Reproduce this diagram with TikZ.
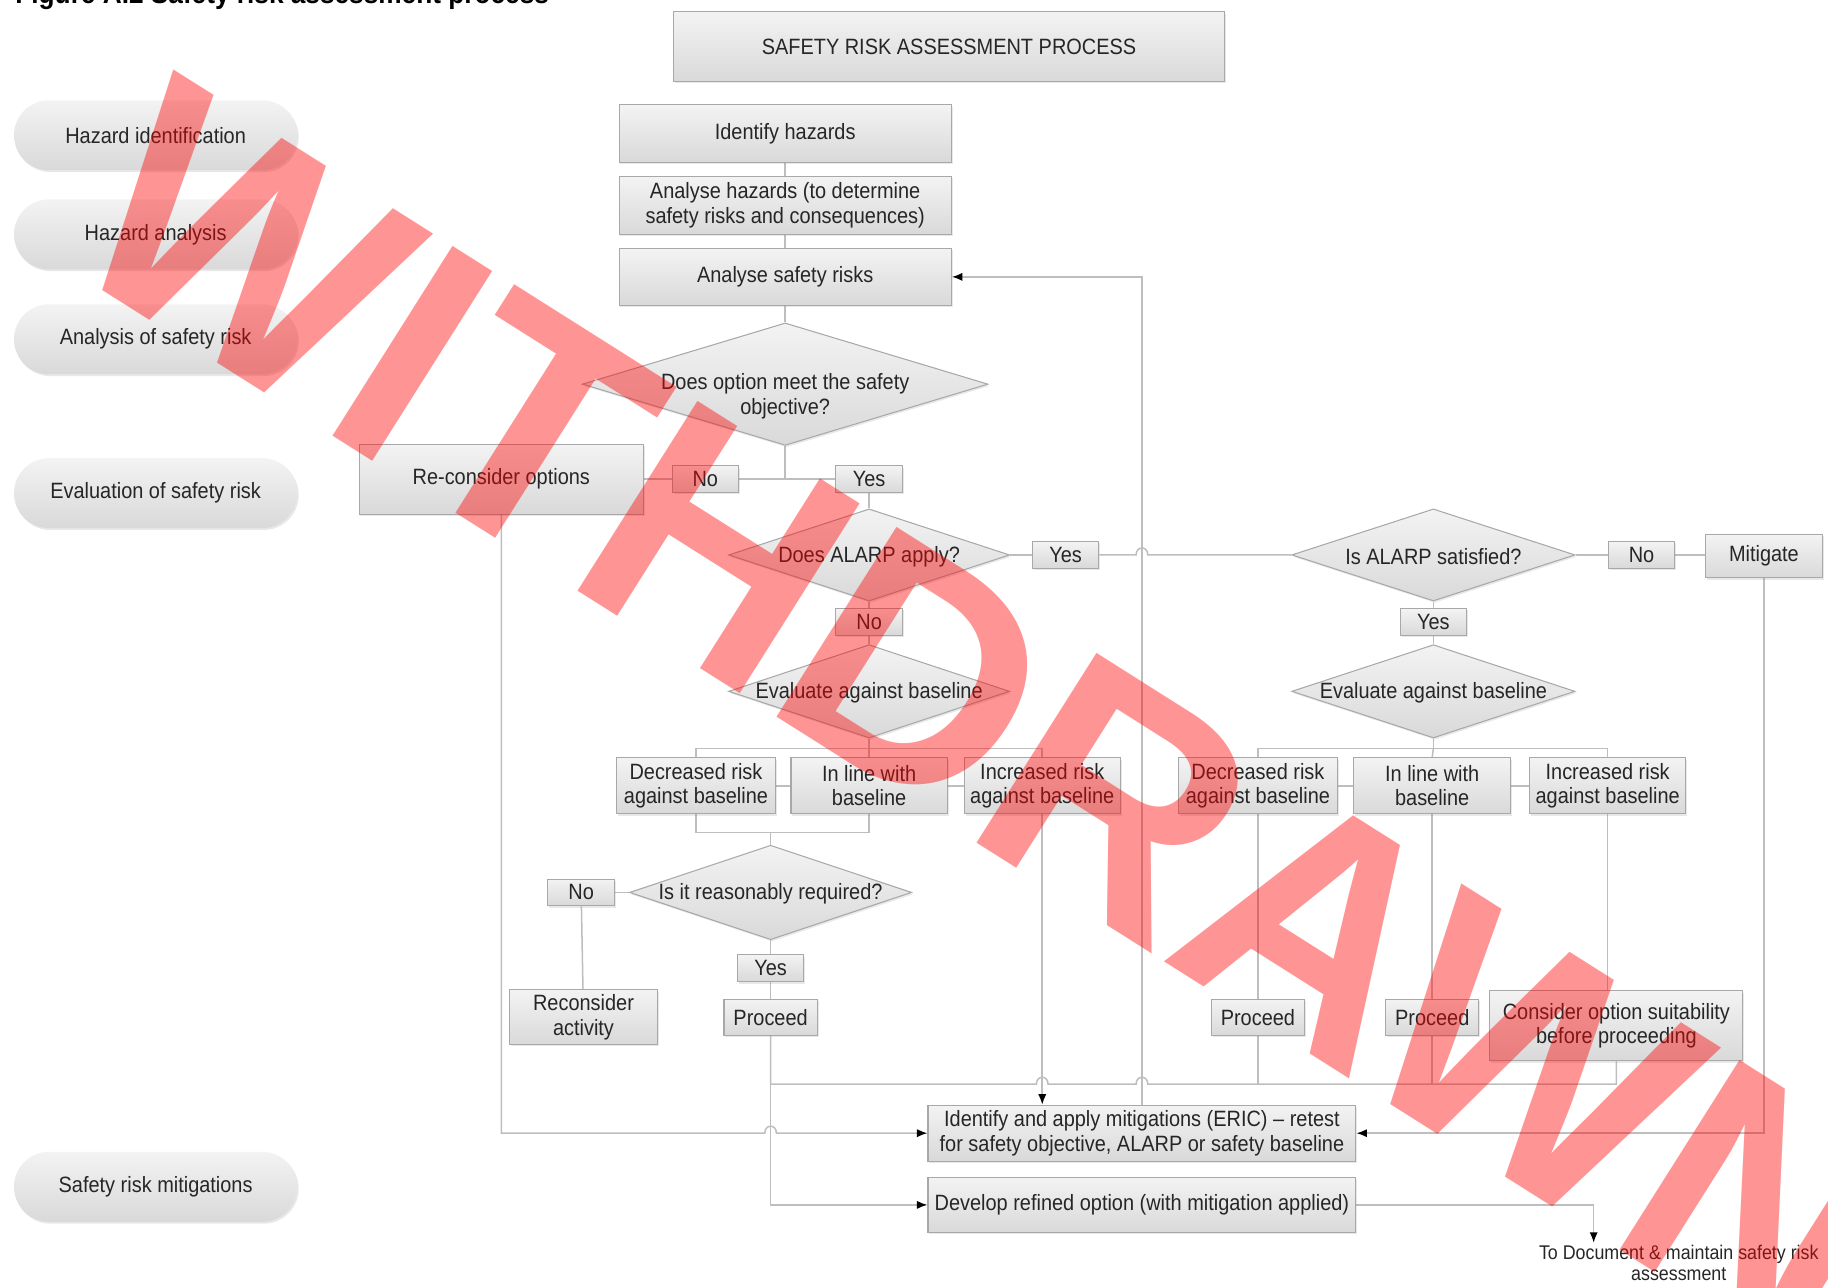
\documentclass[tikz,border=0pt]{standalone}
\usepackage{fontspec}
\setmainfont{Liberation Sans}[FakeStretch=0.9]
\newfontfamily\wmfont{Liberation Sans}
\usetikzlibrary{shapes.geometric,arrows.meta,shadows,backgrounds}
\definecolor{boxtop}{HTML}{F3F3F3}
\definecolor{boxbot}{HTML}{D9D9D9}
\definecolor{boxline}{HTML}{A8A8A8}
\definecolor{connc}{HTML}{BEBEBE}
\definecolor{txtc}{HTML}{262626}
\begin{document}
\begin{tikzpicture}[x=1pt,y=-1pt,
  base/.style={font=\fontsize{19}{21}\selectfont, text=txtc, inner sep=0pt, align=center},
  shad/.style={drop shadow={shadow xshift=1.2pt,shadow yshift=-1.6pt,opacity=0.18}},
  box/.style={base, draw=boxline, line width=0.9pt, top color=boxtop, bottom color=boxbot, shad},
  lbl/.style={box, minimum width=57pt, minimum height=23pt},
  dia/.style={diamond, draw=boxline, line width=0.9pt, top color=boxtop, bottom color=boxbot, inner sep=0pt, shad},
  dtxt/.style={base},
  pill/.style={base, rounded corners=30pt, top color=boxtop, bottom color=boxbot, minimum width=243pt, minimum height=60pt, shad},
  conn/.style={draw=connc, line width=1.3pt},
  arr/.style={conn, -{Latex[length=9pt,width=7pt,color=black]}},
]
\useasboundingbox (0,0) rectangle (1568,1104);

% figure title (cut off at top)
\node[font=\bfseries\fontsize{25}{25}\selectfont, text=black, anchor=base west, inner sep=0pt] (figtitle) at (13,3) {Figure A.2 Safety risk assessment process};

% left stage pills
\node[pill] (p1) at (133.5,116) {Hazard identification};
\node[pill] (p2) at (133.5,201) {Hazard analysis};
\node[pill] (p3) at (133.5,291) {Analysis of safety risk};
\node[pill] (p4) at (133.5,423) {Evaluation of safety risk};
\node[pill] (p5) at (133.5,1018) {Safety risk mitigations};

% main boxes
\node[box, minimum width=472pt, minimum height=60pt] (ttl) at (814,40) {SAFETY RISK ASSESSMENT PROCESS};
\node[box, minimum width=285pt, minimum height=49pt] (ih) at (673.5,114.5) {Identify hazards};
\node[box, minimum width=285pt, minimum height=50pt] (ah) at (673.5,176) {Analyse hazards (to determine\\safety risks and consequences)};
\node[box, minimum width=285pt, minimum height=49pt] (asr) at (673.5,237.5) {Analyse safety risks};

\node[dia, minimum width=348pt, minimum height=105pt] (d1) at (673.5,329.5) {};
\node[dtxt] (d1t) at (673.5,340) {Does option meet the safety\\objective?};

\node[box, minimum width=244pt, minimum height=60pt] (recon) at (430,411) {Re-consider options};
\node[lbl] (no1) at (605,411) {No};
\node[lbl] (yes1) at (745.5,411) {Yes};

\node[dia, minimum width=241pt, minimum height=79pt] (d2) at (745.5,476) {};
\node[dtxt] (d2t) at (745.5,477.5) {Does ALARP apply?};
\node[lbl] (yes2) at (914,476) {Yes};
\node[lbl] (no2) at (745.5,533.5) {No};

\node[dia, minimum width=241pt, minimum height=80pt] (d3) at (745.5,593) {};
\node[dtxt] (d3t) at (745.5,594.5) {Evaluate against baseline};

\node[box, minimum width=136pt, minimum height=48pt] (bl1) at (597,674) {Decreased risk\\against baseline};
\node[box, minimum width=134pt, minimum height=48pt] (bl2) at (745.5,674) {In line with\\baseline};
\node[box, minimum width=134pt, minimum height=48pt] (bl3) at (894,674) {Increased risk\\against baseline};

\node[dia, minimum width=242pt, minimum height=81pt] (d4) at (661,765.5) {};
\node[dtxt] (d4t) at (661,767) {Is it reasonably required?};
\node[lbl] (no3) at (498.5,765.5) {No};
\node[box, minimum width=127pt, minimum height=47pt] (ra) at (500.5,872.5) {Reconsider\\activity};
\node[lbl] (yes3) at (661,830.5) {Yes};
\node[box, minimum width=80pt, minimum height=31pt] (pr1) at (661,872.5) {Proceed};

% right branch
\node[dia, minimum width=243pt, minimum height=79pt] (d5) at (1229.5,476) {};
\node[dtxt] (d5t) at (1229.5,477.5) {Is ALARP satisfied?};
\node[lbl] (no4) at (1408,476) {No};
\node[box, minimum width=100pt, minimum height=37pt] (mit) at (1513,477) {Mitigate};
\node[lbl] (yes4) at (1229.5,533.5) {Yes};
\node[dia, minimum width=243pt, minimum height=80pt] (d6) at (1229.5,593) {};
\node[dtxt] (d6t) at (1229.5,594.5) {Evaluate against baseline};

\node[box, minimum width=136pt, minimum height=48pt] (br1) at (1079,674) {Decreased risk\\against baseline};
\node[box, minimum width=135pt, minimum height=48pt] (br2) at (1228.5,674) {In line with\\baseline};
\node[box, minimum width=134pt, minimum height=48pt] (br3) at (1379,674) {Increased risk\\against baseline};

\node[box, minimum width=80pt, minimum height=31pt] (pr2) at (1079,872.5) {Proceed};
\node[box, minimum width=80pt, minimum height=31pt] (pr3) at (1228.5,872.5) {Proceed};
\node[box, minimum width=217pt, minimum height=60pt] (cons) at (1386.5,880) {Consider option suitability\\before proceeding};

\node[box, minimum width=367pt, minimum height=48pt] (ident) at (979.5,972) {Identify and apply mitigations (ERIC) -- retest\\for safety objective, ALARP or safety baseline};
\node[box, minimum width=367pt, minimum height=47pt] (dev) at (979.5,1033.5) {Develop refined option (with mitigation applied)};

\node[base, font=\fontsize{17}{18}\selectfont, anchor=north] (note) at (1440,1068) {To Document \& maintain safety risk\\assessment};
\coordinate (endp) at (1367,1066);

\coordinate (bj1) at (745.5,642);
\coordinate (bj2) at (661,714);
\coordinate (bj3) at (1229.5,642);
\coordinate (cj) at (661,930);

\begin{scope}[on background layer]
\draw[conn] (ih) -- (ah);
\draw[conn] (ah) -- (asr);
\draw[conn] (asr) -- (d1);
\draw[conn] (d1.south) -- (d1.south |- no1.west);
\draw[conn] (recon.east) -- (no1.west);
\draw[conn] (no1.east) -- (yes1.west);
\draw[conn] (yes1) -- (d2);
\draw[conn] (d2.east) -- (yes2.west);
\draw[conn] (yes2.east) -- (974.5,476) .. controls (974.5,468) and (984.5,468) .. (984.5,476) -- (d5.west);
\draw[conn] (d2) -- (no2);
\draw[conn] (no2) -- (d3);
\draw[conn] (d3.south) -- (bj1);
\draw[conn] (bl1.north) |- (bj1) -| (bl3.north);
\draw[conn] (bj1) -- (bl2.north);
\draw[conn] (bl1) -- (bl2);
\draw[conn] (bl2) -- (bl3);
\draw[conn] (bl1.south) |- (bj2) -| (bl2.south);
\draw[conn] (bj2) -- (d4.north);
\draw[conn] (d4.west) -- (no3.east);
\draw[conn] (no3) -- (ra);
\draw[conn] (d4) -- (yes3);
\draw[conn] (yes3) -- (pr1);
\draw[conn] (pr1.south) -- (cj) -- (889,930) .. controls (889,922) and (899,922) .. (899,930) -- (974.5,930) .. controls (974.5,922) and (984.5,922) .. (984.5,930) -- (1386.5,930) -- (cons.south);
\draw[conn] (pr2.south) -- (pr2.south |- cj);
\draw[conn] (pr3.south) -- (pr3.south |- cj);
\draw[arr] (cj) |- (dev.west);
\draw[arr] (recon.south) |- (656,972) .. controls (656,964) and (666,964) .. (666,972) -- (ident.west);
\draw[arr] (bl3.south) -- (bl3.south |- ident.north);
\draw[arr] (ident.north) |- (asr.east);
\draw[conn] (d5.east) -- (no4.west);
\draw[conn] (no4.east) -- (no4.east -| mit.west);
\draw[arr] (mit.south) |- (ident.east);
\draw[conn] (d5) -- (yes4);
\draw[conn] (yes4) -- (d6);
\draw[conn] (d6.south) -- (bj3);
\draw[conn] (br1.north) |- (bj3) -| (br3.north);
\draw[conn] (bj3) -- (br2.north);
\draw[conn] (br1) -- (br2);
\draw[conn] (br2) -- (br3);
\draw[conn] (br1.south) -- (pr2.north);
\draw[conn] (br2.south) -- (pr3.north);
\draw[conn] (br3.south) -- (br3.south |- cons.north);
\draw[arr] (dev.east) -| (endp);
\end{scope}

% watermark
\node[font=\wmfont\bfseries\fontsize{280}{280}\selectfont, text=red, text opacity=0.42, rotate=-32.3, inner sep=0pt] (wm) at (847,615) {WITHDRAWN};
\end{tikzpicture}
\end{document}
